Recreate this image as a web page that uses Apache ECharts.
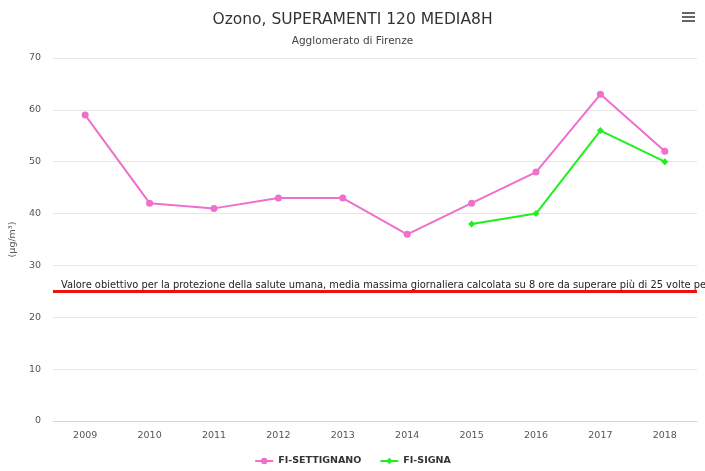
<!DOCTYPE html>
<html>
<head>
    <meta charset="UTF-8">
    <title>Ozono</title>
    <script src="https://cdn.jsdelivr.net/npm/echarts@6/dist/echarts.min.js"></script>
    <style>
        body{ margin:0; background:#fff; }
        #container{ width:705px; height:471px; }
    </style>
</head>
<body>
<div id="container"></div>
<script>
    var anni = ['2009','2010','2011','2012','2013','2014','2015','2016','2017','2018'];
    var settignano = [59, 42, 41, 43, 43, 36, 42, 48, 63, 52];
    var signa = [null, null, null, null, null, null, 38, 40, 56, 50];
    var valoreObiettivo = 25;
    var testoObiettivo = 'Valore obiettivo per la protezione della salute umana, media massima giornaliera calcolata su 8 ore da superare più di 25 volte per anno civile come media su 3 anni';

    var font = 'DejaVu Sans';
    var myChart = echarts.init(document.getElementById('container'));
    myChart.setOption({
        animation: false,
        title: {
            text: 'Ozono, SUPERAMENTI 120 MEDIA8H',
            subtext: 'Agglomerato di Firenze',
            left: 'center',
            top: 7,
            itemGap: 8,
            textStyle: { fontFamily: font, fontSize: 15.5, fontWeight: 'normal', color: '#333' },
            subtextStyle: { fontFamily: font, fontSize: 10.5, color: '#444' }
        },
        graphic: [
            { type: 'rect', left: 682, top: 12, shape: { width: 13, height: 2 }, style: { fill: '#666' } },
            { type: 'rect', left: 682, top: 16, shape: { width: 13, height: 2 }, style: { fill: '#666' } },
            { type: 'rect', left: 682, top: 20, shape: { width: 13, height: 2 }, style: { fill: '#666' } }
        ],
        legend: {
            bottom: 0,
            left: 'center',
            itemWidth: 18,
            itemHeight: 8,
            itemGap: 18,
            textStyle: { fontFamily: font, fontSize: 9.5, fontWeight: 'bold', color: '#333' },
            data: ['FI-SETTIGNANO', 'FI-SIGNA']
        },
        grid: { left: 46, right: 8, top: 58, bottom: 50 },
        xAxis: {
            type: 'category',
            data: anni,
            boundaryGap: true,
            axisLine: { lineStyle: { color: '#ccd6eb' } },
            axisTick: { alignWithLabel: false, length: 8, lineStyle: { color: '#ccd6eb' } },
            axisLabel: { fontFamily: font, fontSize: 9.5, color: '#555', margin: 10 }
        },
        yAxis: {
            type: 'value',
            min: 0,
            max: 70,
            interval: 10,
            name: '(µg/m³)',
            nameLocation: 'middle',
            nameGap: 27,
            nameTextStyle: { fontFamily: font, fontSize: 9.5, color: '#555' },
            axisLine: { show: false },
            axisTick: { show: false },
            axisLabel: { fontFamily: font, fontSize: 9.5, color: '#555', margin: 12 },
            splitLine: { lineStyle: { color: '#e6e6e6' } }
        },
        series: [{
            name: 'FI-SETTIGNANO',
            type: 'line',
            data: settignano,
            color: '#ee6fcc',
            symbol: 'circle',
            symbolSize: 7,
            lineStyle: { width: 2 },
            markLine: {
                silent: true,
                symbol: 'none',
                lineStyle: { color: '#ee1111', width: 3, type: 'solid' },
                label: {
                    position: 'insideStartTop',
                    distance: [8, 1],
                    formatter: testoObiettivo,
                    fontFamily: font,
                    fontSize: 9.9,
                    color: '#222'
                },
                data: [{ yAxis: valoreObiettivo }]
            }
        }, {
            name: 'FI-SIGNA',
            type: 'line',
            data: signa,
            color: '#22ee22',
            symbol: 'diamond',
            symbolSize: 7,
            lineStyle: { width: 2 }
        }]
    });
</script>
</body>
</html>
